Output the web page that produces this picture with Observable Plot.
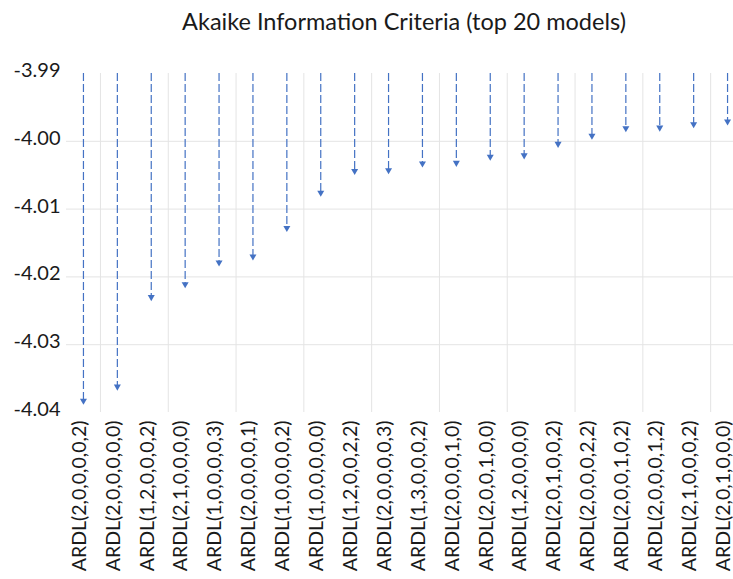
<!DOCTYPE html>
<html>
<head>
<meta charset="utf-8">
<script src="https://cdn.jsdelivr.net/npm/d3@7"></script>
<script src="https://cdn.jsdelivr.net/npm/@observablehq/plot@0.6"></script>
<style>
  html, body { margin: 0; padding: 0; background: #fff; overflow: hidden; }
</style>
</head>
<body>
<div id="chart"></div>
<script>
const title = "Akaike Information Criteria (top 20 models)";
const models = [
  "ARDL(2,0,0,0,0,2)", "ARDL(2,0,0,0,0,0)", "ARDL(1,2,0,0,0,2)", "ARDL(2,1,0,0,0,0)",
  "ARDL(1,0,0,0,0,3)", "ARDL(2,0,0,0,0,1)", "ARDL(1,0,0,0,0,2)", "ARDL(1,0,0,0,0,0)",
  "ARDL(1,2,0,0,2,2)", "ARDL(2,0,0,0,0,3)", "ARDL(1,3,0,0,0,2)", "ARDL(2,0,0,0,1,0)",
  "ARDL(2,0,0,1,0,0)", "ARDL(1,2,0,0,0,0)", "ARDL(2,0,1,0,0,2)", "ARDL(2,0,0,0,2,2)",
  "ARDL(2,0,0,1,0,2)", "ARDL(2,0,0,0,1,2)", "ARDL(2,1,0,0,0,2)", "ARDL(2,0,1,0,0,0)"
];
const aic = [
  -4.0385, -4.0364, -4.0232, -4.0213, -4.0181, -4.0172, -4.0130, -4.0078,
  -4.0046, -4.0045, -4.0035, -4.0034, -4.0025, -4.0023, -4.0006, -3.9994,
  -3.9983, -3.9982, -3.9977, -3.9973
];
const yTicks = [-3.99, -4.00, -4.01, -4.02, -4.03, -4.04];
const yGrid = [-4.00, -4.01, -4.02, -4.03];
const yTop = -3.99;
const yBottom = -4.04;

const data = models.map((m, i) => ({model: m, value: aic[i]}));
const gridModels = models.filter((d, i) => i % 2 === 0);

const font = "Lato, 'Open Sans', sans-serif";
const blue = "#4472C4";
const ink = "#1a1a1a";

const chart = Plot.plot({
  width: 733,
  height: 579,
  marginTop: 73,
  marginBottom: 167,
  marginLeft: 66,
  marginRight: 0,
  style: {fontFamily: font, color: ink, background: "#fff"},
  x: {type: "band", domain: models, range: [66, 744], padding: 0, round: false, axis: null, label: null},
  y: {domain: [yBottom, yTop], axis: null, label: null},
  marks: [
    Plot.ruleY(yGrid, {stroke: "#e4e4e4", strokeWidth: 1}),
    Plot.ruleX(gridModels, {x: d => d, dx: 17, y1: yTop, y2: yBottom, stroke: "#e4e4e4", strokeWidth: 1}),
    Plot.ruleX(data, {x: "model", y1: () => yTop, y2: "value", stroke: blue, strokeWidth: 1.2, strokeDasharray: "8,3"}),
    Plot.dot(data, {x: "model", y: "value", symbol: "triangle", rotate: 180, r: 2.6, fill: blue, stroke: "none", dy: -1.5}),
    Plot.axisY({ticks: yTicks, tickFormat: d => d.toFixed(2), tickSize: 0, tickPadding: 6, fontSize: 20, dy: -3, fill: ink, label: null}),
    Plot.axisX({tickRotate: -90, tickSize: 0, tickPadding: 8, fontSize: 19.5, dx: -4, fill: ink, label: null}),
    Plot.text([title], {frameAnchor: "top", dx: 4, dy: -51, lineAnchor: "middle", fontSize: 23.5, fill: ink, x: null})
  ]
});
document.getElementById("chart").appendChild(chart);
</script>
</body>
</html>
